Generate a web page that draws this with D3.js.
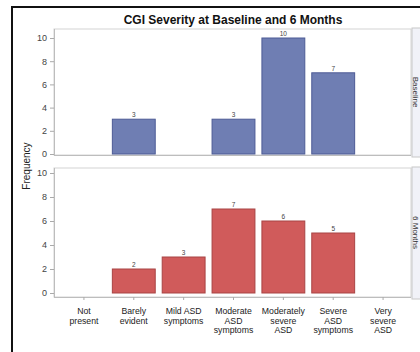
<!DOCTYPE html>
<html>
<head>
<meta charset="utf-8">
<script src="https://cdn.jsdelivr.net/npm/d3@7"></script>
<style>
  html, body { margin: 0; padding: 0; background: #fff; }
  svg { display: block; font-family: "Liberation Sans", Arial, sans-serif; }
</style>
</head>
<body>
<svg id="chart" width="420" height="352"></svg>
<script>
// CGI severity categories (x axis)
const categories = [
  "Not present", "Barely evident", "Mild ASD symptoms", "Moderate ASD symptoms",
  "Moderately severe ASD", "Severe ASD symptoms", "Very severe ASD"
];
// Tick labels split into lines
const categoryLines = [
  ["Not", "present"], ["Barely", "evident"], ["Mild ASD", "symptoms"],
  ["Moderate", "ASD", "symptoms"], ["Moderately", "severe", "ASD"],
  ["Severe", "ASD", "symptoms"], ["Very", "severe", "ASD"]
];
// Frequencies per visit (null = no bar)
const baselineCounts = [null, 3, null, 3, 10, 7, null];
const sixMonthCounts = [null, 2, 3, 7, 6, 5, null];
const panelNames = ["Baseline", "6 Months"];
const yTicks = [0, 2, 4, 6, 8, 10];

const svg = d3.select("#chart");

// Outer frame
svg.append("rect")
  .attr("x", 12).attr("y", 7).attr("width", 420).attr("height", 360)
  .attr("fill", "none").attr("stroke", "#111").attr("stroke-width", 2);

// Title
svg.append("text")
  .attr("x", 233).attr("y", 24)
  .attr("text-anchor", "middle")
  .attr("font-size", 12).attr("font-weight", "bold").attr("fill", "#111")
  .text("CGI Severity at Baseline and 6 Months");

// Y axis title
svg.append("text")
  .attr("transform", "translate(30,166) rotate(-90)")
  .attr("text-anchor", "middle")
  .attr("font-size", 10).attr("fill", "#222")
  .text("Frequency");

const x = d3.scaleBand()
  .domain(categories)
  .range([59, 408])
  .paddingInner(0.12)
  .paddingOuter(0.06);

const left = 54, right = 411;

const panels = [
  { name: panelNames[0], values: baselineCounts, top: 29, axisY: 155, y0: 154, y10: 38,
    fill: "#6F7EB3", stroke: "#4d5b95" },
  { name: panelNames[1], values: sixMonthCounts, top: 168, axisY: 297, y0: 293, y10: 173,
    fill: "#D05B5B", stroke: "#a84444" }
];

panels.forEach((p, pi) => {
  const y = d3.scaleLinear().domain([0, 10]).range([p.y0, p.y10]);
  const g = svg.append("g");

  // Panel frame
  g.append("rect")
    .attr("x", left).attr("y", p.top)
    .attr("width", right - left).attr("height", p.axisY - p.top)
    .attr("fill", "#fff").attr("stroke", "#d4d4d4").attr("stroke-width", 1);

  // Row header strip on the right
  g.append("rect")
    .attr("x", right + 1).attr("y", p.top - 1)
    .attr("width", 20).attr("height", p.axisY - p.top + 3)
    .attr("fill", "#f1f2f8").attr("stroke", "#c8c8c8").attr("stroke-width", 1);
  g.append("text")
    .attr("transform", `translate(${413},${(p.top + p.axisY) / 2}) rotate(90)`)
    .attr("text-anchor", "middle")
    .attr("font-size", 8).attr("fill", "#333")
    .text(p.name);

  // Y axis
  const yAxis = d3.axisLeft(y).tickValues(yTicks).tickSize(4).tickPadding(3);
  const ya = g.append("g")
    .attr("transform", `translate(${left},0)`)
    .call(yAxis);
  ya.select(".domain").remove();
  ya.append("line")
    .attr("x1", 0.5).attr("x2", 0.5).attr("y1", p.top).attr("y2", p.axisY)
    .attr("stroke", "#bdbdbd");
  ya.selectAll(".tick line").attr("stroke", "#aaa");
  ya.selectAll(".tick text")
    .attr("font-size", 9).attr("fill", "#444")
    .attr("font-family", "Liberation Sans, Arial, sans-serif");

  // Bottom axis line
  g.append("line")
    .attr("x1", left).attr("x2", right)
    .attr("y1", p.axisY + 0.5).attr("y2", p.axisY + 0.5)
    .attr("stroke", "#bdbdbd");

  // Bars
  const data = categories.map((c, i) => ({ c, v: p.values[i] })).filter(d => d.v != null);
  g.selectAll("rect.bar").data(data).enter().append("rect")
    .attr("class", "bar")
    .attr("x", d => x(d.c) + 0.5)
    .attr("width", x.bandwidth() - 1)
    .attr("y", d => y(d.v))
    .attr("height", d => y(0) - y(d.v))
    .attr("fill", p.fill).attr("stroke", p.stroke).attr("stroke-width", 1);

  // Value labels
  g.selectAll("text.val").data(data).enter().append("text")
    .attr("class", "val")
    .attr("x", d => x(d.c) + x.bandwidth() / 2)
    .attr("y", d => y(d.v) - 2)
    .attr("text-anchor", "middle")
    .attr("font-size", 6.5).attr("fill", "#444")
    .text(d => d.v);

  // X axis ticks and labels on the bottom panel
  if (pi === panels.length - 1) {
    const xa = g.append("g")
      .attr("transform", `translate(0,${p.axisY})`)
      .call(d3.axisBottom(x).tickSize(3).tickFormat(""));
    xa.select(".domain").remove();
    xa.selectAll(".tick line").attr("stroke", "#aaa");

    categories.forEach((c, i) => {
      const t = g.append("text")
        .attr("x", x(c) + x.bandwidth() / 2)
        .attr("y", 314)
        .attr("text-anchor", "middle")
        .attr("font-size", 8.7).attr("fill", "#222");
      categoryLines[i].forEach((line, li) => {
        t.append("tspan")
          .attr("x", x(c) + x.bandwidth() / 2)
          .attr("dy", li === 0 ? 0 : 9.6)
          .text(line);
      });
    });
  }
});
</script>
</body>
</html>
